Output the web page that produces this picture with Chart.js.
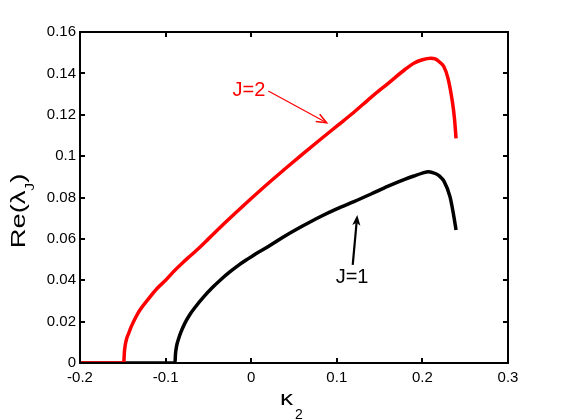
<!DOCTYPE html>
<html>
<head>
<meta charset="utf-8">
<script src="https://cdn.jsdelivr.net/npm/chart.js@4.4.1/dist/chart.umd.min.js"></script>
<style>
  html, body { margin: 0; padding: 0; background: #fff; }
  #c { display: block; }
</style>
</head>
<body>
<canvas id="c" width="561" height="420"></canvas>
<script>
// ---- data ----
const kappaJ2 = [-0.2, -0.149, -0.148, -0.146, -0.143, -0.14, -0.135, -0.13, -0.12, -0.11, -0.10, -0.09, -0.08, -0.07, -0.06, -0.05, -0.04, -0.03, -0.02, -0.01, 0, 0.02, 0.04, 0.06, 0.08, 0.10, 0.12, 0.14, 0.16, 0.18, 0.19, 0.20, 0.21, 0.215, 0.22, 0.225, 0.23, 0.2353, 0.2375, 0.2393];
const reJ2    = [0, 0, 0.006, 0.011, 0.0145, 0.0177, 0.022, 0.0256, 0.031, 0.036, 0.040, 0.0445, 0.0485, 0.0522, 0.0560, 0.0600, 0.0640, 0.0680, 0.0719, 0.0757, 0.0795, 0.0869, 0.0940, 0.1010, 0.1078, 0.1145, 0.1212, 0.1284, 0.1352, 0.1420, 0.1449, 0.1466, 0.1473, 0.1470, 0.1455, 0.1433, 0.1375, 0.1255, 0.1180, 0.1086];
const kappaJ1 = [-0.2, -0.089, -0.0885, -0.087, -0.085, -0.082, -0.078, -0.072, -0.065, -0.055, -0.045, -0.035, -0.025, -0.015, -0.005, 0.005, 0.02, 0.04, 0.06, 0.08, 0.10, 0.12, 0.14, 0.16, 0.18, 0.19, 0.20, 0.207, 0.215, 0.22, 0.225, 0.2322, 0.2361, 0.2393];
const reJ1    = [0, 0, 0.004, 0.0085, 0.0115, 0.015, 0.0188, 0.0232, 0.0272, 0.0322, 0.0366, 0.0405, 0.0440, 0.0472, 0.0500, 0.0527, 0.0563, 0.0615, 0.0662, 0.0706, 0.0745, 0.0780, 0.0817, 0.0855, 0.0889, 0.0904, 0.0918, 0.0925, 0.0916, 0.0903, 0.0880, 0.0804, 0.0724, 0.0643];
const xTicks = [-0.2, -0.1, 0, 0.1, 0.2, 0.3];
const yTicks = [0, 0.02, 0.04, 0.06, 0.08, 0.1, 0.12, 0.14, 0.16];
const xTickLabels = ["-0.2", "-0.1", "0", "0.1", "0.2", "0.3"];
const yTickLabels = ["0", "0.02", "0.04", "0.06", "0.08", "0.1", "0.12", "0.14", "0.16"];
const seriesNames = ["J=2", "J=1"];
// annotation anchors in data units
const labelJ2 = [-0.0026, 0.1315];
const arrowJ2 = [[0.020, 0.1315], [0.0882, 0.1161]];
const labelJ1 = [0.1178, 0.0413];
const arrowJ1 = [[0.1186, 0.0474], [0.1239, 0.0715]];

const FONT = '"Liberation Sans", Arial, Helvetica, sans-serif';

function toPts(xs, ys) { return xs.map((x, i) => ({ x: x, y: ys[i] })); }

const framePlugin = {
  id: 'frame',
  afterDraw(chart) {
    const { ctx, chartArea: a, scales } = chart;
    ctx.save();
    ctx.strokeStyle = '#000';
    ctx.lineWidth = 2;
    ctx.strokeRect(a.left, a.top, a.right - a.left, a.bottom - a.top);
    const tl = 5;
    ctx.beginPath();
    xTicks.forEach(v => {
      const px = Math.round(scales.x.getPixelForValue(v));
      ctx.moveTo(px, a.bottom); ctx.lineTo(px, a.bottom - tl);
      ctx.moveTo(px, a.top); ctx.lineTo(px, a.top + tl);
    });
    yTicks.forEach(v => {
      const py = Math.round(scales.y.getPixelForValue(v));
      ctx.moveTo(a.left, py); ctx.lineTo(a.left + tl, py);
      ctx.moveTo(a.right, py); ctx.lineTo(a.right - tl, py);
    });
    ctx.stroke();

    // axis titles
    ctx.fillStyle = '#000';
    ctx.textBaseline = 'alphabetic';
    ctx.textAlign = 'left';
    // x title: kappa_2
    ctx.save();
    ctx.translate(280, 405);
    ctx.scale(1.3, 1);
    ctx.font = '20px ' + FONT;
    ctx.fillText('κ', 0, 0);
    ctx.restore();
    ctx.font = '14px ' + FONT;
    ctx.fillText('2', 295, 419);
    // y title: Re(lambda_J)
    ctx.save();
    ctx.translate(25, 211);
    ctx.rotate(-Math.PI / 2);
    ctx.scale(1.3, 1);
    ctx.font = '21px ' + FONT;
    const p1 = 'Re(λ';
    const w1 = ctx.measureText(p1).width;
    ctx.font = '12px ' + FONT;
    const w2 = ctx.measureText('J').width;
    ctx.font = '21px ' + FONT;
    const w3 = ctx.measureText(')').width;
    let sx = -(w1 + w2 + w3) / 2;
    ctx.fillText(p1, sx, 0);
    ctx.font = '12px ' + FONT;
    ctx.fillText('J', sx + w1, 9);
    ctx.font = '21px ' + FONT;
    ctx.fillText(')', sx + w1 + w2, 0);
    ctx.restore();

    // annotations
    const X = v => scales.x.getPixelForValue(v);
    const Y = v => scales.y.getPixelForValue(v);
    ctx.font = '20px ' + FONT;
    ctx.textAlign = 'center';
    ctx.textBaseline = 'middle';
    ctx.fillStyle = '#ff0000';
    ctx.fillText(seriesNames[0], X(labelJ2[0]), Y(labelJ2[1]));
    ctx.fillStyle = '#000';
    ctx.fillText(seriesNames[1], X(labelJ1[0]), Y(labelJ1[1]));

    function arrow(p0, p1, color, lw, filled) {
      const x0 = X(p0[0]), y0 = Y(p0[1]), x1 = X(p1[0]), y1 = Y(p1[1]);
      const ang = Math.atan2(y1 - y0, x1 - x0);
      const hl = 11, hw = 0.38;
      ctx.strokeStyle = color; ctx.fillStyle = color; ctx.lineWidth = lw;
      ctx.beginPath();
      ctx.moveTo(x0, y0); ctx.lineTo(x1 - (filled ? hl * 0.7 : 0) * Math.cos(ang), y1 - (filled ? hl * 0.7 : 0) * Math.sin(ang));
      ctx.stroke();
      const ax = x1 - hl * Math.cos(ang - hw), ay = y1 - hl * Math.sin(ang - hw);
      const bx = x1 - hl * Math.cos(ang + hw), by = y1 - hl * Math.sin(ang + hw);
      ctx.beginPath();
      if (filled) {
        ctx.moveTo(x1, y1); ctx.lineTo(ax, ay);
        ctx.lineTo(x1 - hl * 0.7 * Math.cos(ang), y1 - hl * 0.7 * Math.sin(ang));
        ctx.lineTo(bx, by); ctx.closePath(); ctx.fill();
      } else {
        ctx.moveTo(ax, ay); ctx.lineTo(x1, y1); ctx.lineTo(bx, by);
        ctx.lineWidth = 1.5; ctx.stroke();
      }
    }
    arrow(arrowJ2[0], arrowJ2[1], '#ff0000', 1.2, false);
    arrow(arrowJ1[0], arrowJ1[1], '#000', 2.2, true);
    ctx.restore();
  }
};

new Chart(document.getElementById('c'), {
  type: 'scatter',
  data: {
    datasets: [
      { label: seriesNames[0], data: toPts(kappaJ2, reJ2), showLine: true, borderColor: '#ff0000', backgroundColor: '#ff0000', borderWidth: 3.5, pointRadius: 0, cubicInterpolationMode: 'monotone' },
      { label: seriesNames[1], data: toPts(kappaJ1, reJ1), showLine: true, borderColor: '#000000', backgroundColor: '#000000', borderWidth: 3.5, pointRadius: 0, cubicInterpolationMode: 'monotone' }
    ]
  },
  options: {
    responsive: false,
    animation: false,
    devicePixelRatio: 1,
    layout: { padding: { top: 32, right: 53, left: 0, bottom: 0 } },
    plugins: { legend: { display: false }, tooltip: { enabled: false } },
    scales: {
      x: {
        type: 'linear', min: -0.2, max: 0.3,
        afterBuildTicks: s => { s.ticks = xTicks.map(v => ({ value: v })); },
        afterFit: s => { s.height = 57; },
        grid: { display: false, drawTicks: false },
        border: { display: false },
        ticks: {
          padding: 6, color: '#000', font: { size: 15, family: FONT },
          callback: (v) => { const i = xTicks.findIndex(t => Math.abs(t - v) < 1e-9); return i >= 0 ? xTickLabels[i] : ''; },
          maxRotation: 0
        }
      },
      y: {
        type: 'linear', min: 0, max: 0.16,
        afterBuildTicks: s => { s.ticks = yTicks.map(v => ({ value: v })); },
        afterFit: s => { s.width = 80; },
        grid: { display: false, drawTicks: false },
        border: { display: false },
        ticks: {
          padding: 4, color: '#000', font: { size: 15, family: FONT },
          callback: (v) => { const i = yTicks.findIndex(t => Math.abs(t - v) < 1e-9); return i >= 0 ? yTickLabels[i] : ''; }
        }
      }
    }
  },
  plugins: [framePlugin]
});
</script>
</body>
</html>
